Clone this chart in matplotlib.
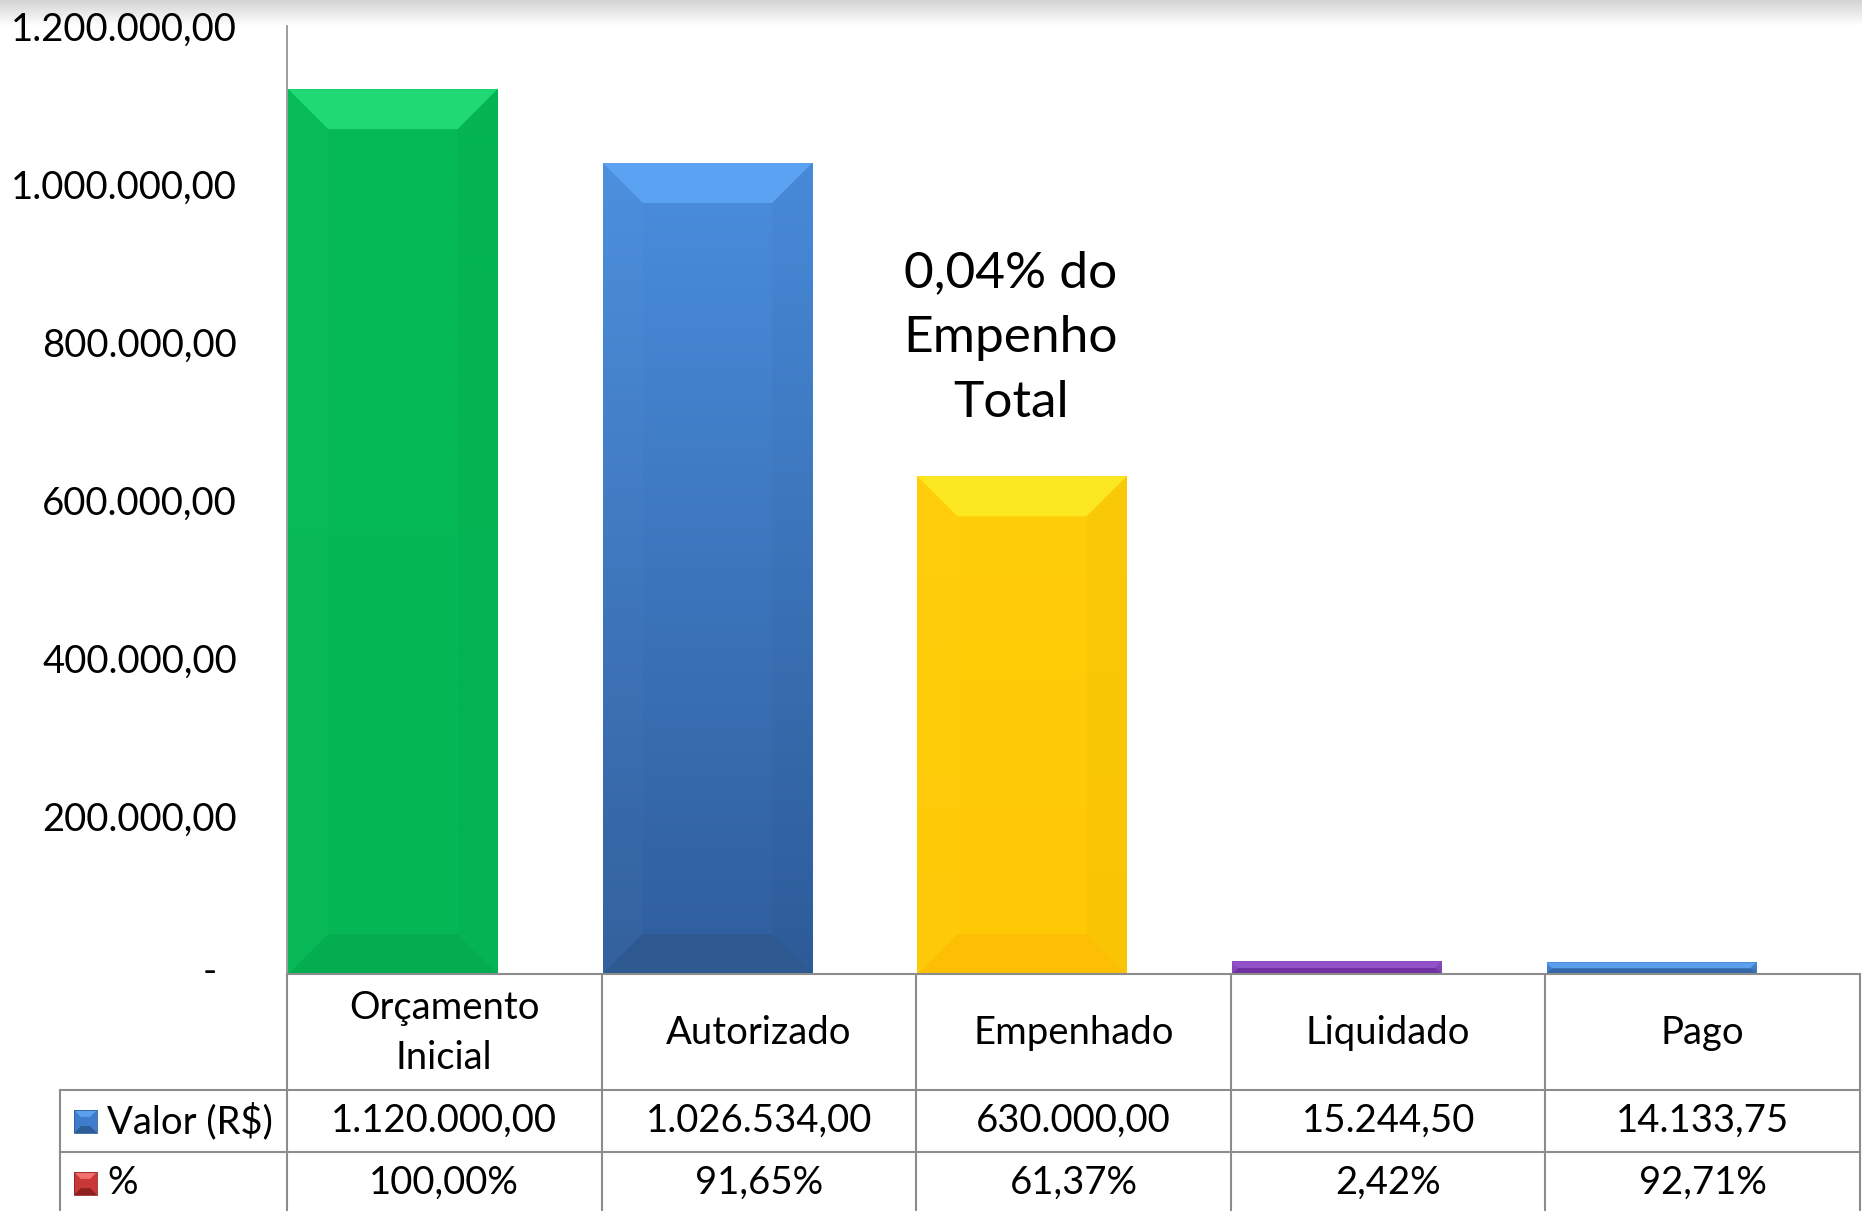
import numpy as np
import matplotlib
matplotlib.use("Agg")
import matplotlib.pyplot as plt
from matplotlib.patches import Polygon
from matplotlib.colors import to_rgb

plt.rcParams['font.family'] = ['Lato', 'DejaVu Sans']

# dados do gráfico
categorias = ['Orçamento\nInicial', 'Autorizado', 'Empenhado', 'Liquidado', 'Pago']
valores = [1120000.00, 1026534.00, 630000.00, 15244.50, 14133.75]
percentuais = [100.00, 91.65, 61.37, 2.42, 92.71]
yticks = [0, 200000, 400000, 600000, 800000, 1000000, 1200000]
anotacao = '0,04% do\nEmpenho\nTotal'

# cores (face topo, face base, bisel topo, bisel base)
cores = [
    ('#05BA56', '#05B855', '#20D974', '#03AD50'),
    ('#4A8EDE', '#2F5E9C', '#5BA2F2', '#2D5890'),
    ('#FFCE08', '#FFC905', '#FCE822', '#FCBF04'),
    ('#8A4DC0', '#7E40B4', '#9452C8', '#7131A2'),
    ('#4A8BDB', '#3A70B4', '#5B9FEE', '#3567A8'),
]

FS = 27.5


def br(v, dec=2):
    s = f"{v:,.{dec}f}"
    return s.replace(',', 'X').replace('.', ',').replace('X', '.')


W, H = 1862, 1211
fig = plt.figure(figsize=(W / 100, H / 100), dpi=100)

# sombra no topo (fundo)
fundo = fig.add_axes([0, 0, 1, 1], zorder=-1)
fundo.set_xlim(0, W)
fundo.set_ylim(H, 0)
fundo.axis('off')
sombra = np.linspace(0.72, 1.0, 60)[:, None] * np.ones((1, 10))
fundo.imshow(sombra, extent=(0, W, 26, 0), cmap='gray', vmin=0, vmax=1, aspect='auto', alpha=0.6)
fundo.set_xlim(0, W)
fundo.set_ylim(H, 0)

# posições em pixels
AX_L, AX_R, AX_T, AX_B = 287, 1860, 26, 974
ax = fig.add_axes([AX_L / W, (H - AX_B) / H, (AX_R - AX_L) / W, (AX_B - AX_T) / H])
ax.patch.set_alpha(0)
n = len(categorias)
ax.set_xlim(0, n)
ax.set_ylim(0, 1200000)

px_x = (AX_R - AX_L) / n
px_y = (AX_B - AX_T) / 1200000

larg = 0.665
x0s = np.arange(n) + 0.004
bars = ax.bar(x0s, valores, width=larg, align='edge', color=[c[0] for c in cores],
              linewidth=0, zorder=2)

for b, c in zip(bars, cores):
    x0, w, h = b.get_x(), b.get_width(), b.get_height()
    # gradiente vertical
    top, bot = np.array(to_rgb(c[0])), np.array(to_rgb(c[1]))
    t = np.linspace(0, 1, 200)[:, None]
    grad = (top * (1 - t) + bot * t)[:, None, :]
    ax.imshow(grad, extent=(x0, x0 + w, 0, h), aspect='auto', zorder=2.5,
              interpolation='bilinear')
    bpx = min(40, h * px_y / 2)
    bx, by = bpx / px_x, bpx / px_y
    # bisel
    ax.add_patch(Polygon([(x0, h), (x0 + w, h), (x0 + w - bx, h - by), (x0 + bx, h - by)],
                         closed=True, facecolor=c[2], linewidth=0, zorder=3))
    ax.add_patch(Polygon([(x0, 0), (x0 + w, 0), (x0 + w - bx, by), (x0 + bx, by)],
                         closed=True, facecolor=c[3], linewidth=0, zorder=3))
    ax.add_patch(Polygon([(x0 + w, h), (x0 + w, 0), (x0 + w - bx, by), (x0 + w - bx, h - by)],
                         closed=True, facecolor='black', alpha=0.025, linewidth=0, zorder=3))
    ax.add_patch(Polygon([(x0, h), (x0, 0), (x0 + bx, by), (x0 + bx, h - by)],
                         closed=True, facecolor='white', alpha=0.02, linewidth=0, zorder=3))

ax.set_xlim(0, n)
ax.set_ylim(0, 1200000)

ax.set_yticks(yticks)
ax.set_yticklabels([br(v) if v else '' for v in yticks], fontsize=FS)
ax.tick_params(axis='y', length=0, pad=36)
ax.set_xticks([])
for s in ['top', 'right', 'bottom']:
    ax.spines[s].set_visible(False)
ax.spines['left'].set_color('#8C8C8C')
ax.spines['left'].set_linewidth(1.2)

ax.text(2.3, 805000, anotacao, ha='center', va='center', fontsize=37,
        linespacing=1.5, zorder=5)

# tabela de dados (coordenadas em pixels)
tab = fig.add_axes([0, 0, 1, 1], zorder=5)
tab.set_xlim(0, W)
tab.set_ylim(H, 0)
tab.axis('off')
tab.patch.set_alpha(0)

lc, lw = '#8C8C8C', 1.5
TAB_L = 60
R1, R2 = 1090, 1152
tab.plot([AX_L, AX_R], [AX_B, AX_B], color=lc, lw=lw)
tab.plot([TAB_L, AX_R], [R1, R1], color=lc, lw=lw)
tab.plot([TAB_L, AX_R], [R2, R2], color=lc, lw=lw)
tab.plot([TAB_L, TAB_L], [R1, H], color=lc, lw=lw)
for i in range(n + 1):
    xe = AX_L + i * px_x
    tab.plot([xe, xe], [AX_B, H], color=lc, lw=lw)

for i in range(n):
    xc = AX_L + (i + 0.5) * px_x
    tab.text(xc, 1033, categorias[i], ha='center', va='center', fontsize=FS, linespacing=1.45)
    tab.text(xc, 1121, br(valores[i]), ha='center', va='center', fontsize=FS)
    tab.text(xc, 1183, br(percentuais[i]) + '%', ha='center', va='center', fontsize=FS)

tab.text(217, AX_B - 2, '-', ha='right', va='center', fontsize=FS)


def quadrado(x, y, s, face, top, bot):
    b = s * 0.3
    tab.add_patch(Polygon([(x, y), (x + s, y), (x + s, y + s), (x, y + s)], facecolor=face, lw=0))
    tab.add_patch(Polygon([(x, y), (x + s, y), (x + s - b, y + b), (x + b, y + b)], facecolor=top, lw=0))
    tab.add_patch(Polygon([(x, y + s), (x + s, y + s), (x + s - b, y + s - b), (x + b, y + s - b)],
                          facecolor=bot, lw=0))
    tab.add_patch(Polygon([(x, y), (x + s, y), (x + s, y + s), (x, y + s)], facecolor='none',
                          edgecolor=bot, lw=0.6))


quadrado(74, 1110, 23, '#3F7CCB', '#5CA0F0', '#2D5C98')
quadrado(74, 1172, 23, '#C83838', '#F07070', '#8E2020')
tab.text(107, 1121, 'Valor (R$)', ha='left', va='center', fontsize=FS)
tab.text(107, 1183, '%', ha='left', va='center', fontsize=FS)

fig.savefig('out.png', dpi=100)
